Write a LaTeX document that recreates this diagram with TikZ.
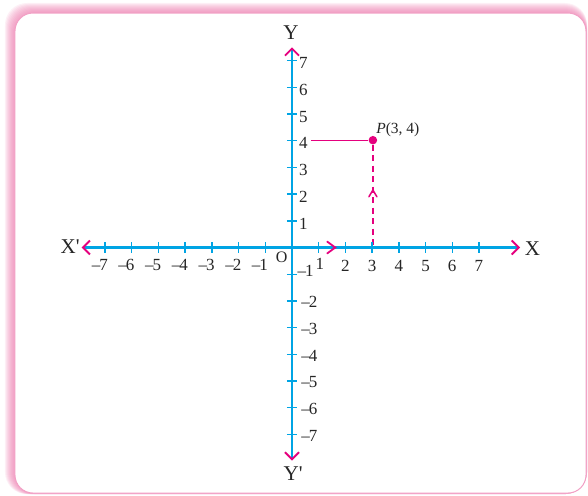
\documentclass[tikz,border=0pt]{standalone}
\usepackage{fontspec}
\setmainfont{Liberation Serif}
\usetikzlibrary{arrows.meta,calc}
\definecolor{axcyan}{RGB}{0,164,228}
\definecolor{mag}{RGB}{229,0,126}
\definecolor{framepink}{RGB}{236,120,172}
\newcommand{\mns}{\textendash\kern-1pt}
\begin{document}
\begin{tikzpicture}[x=26.7pt,y=26.7pt,
  axisline/.style={axcyan, line width=2.4pt,
    arrows={Straight Barb[color=mag,length=7pt,width=14pt,line width=1.9pt]-Straight Barb[color=mag,length=7pt,width=14pt,line width=1.9pt]}},
  tickmark/.style={axcyan, line width=1.4pt},
  ticklbl/.style={font=\fontsize{17}{20}\selectfont, inner sep=0pt, text=black!85},
  axlbl/.style={font=\fontsize{21}{24}\selectfont, inner sep=0pt, text=black!85},
  chevron/.style={mag, line width=1.8pt, line cap=round, line join=miter},
  guide/.style={mag, line width=1.3pt}]
\useasboundingbox (-10.936,-9.270) rectangle (11.086,9.270);
% frame with soft pink shadow
\foreach \i in {1,...,10}{
  \fill[framepink, opacity=0.11, rounded corners=22pt]
    ({-10.375-\i*0.0375},{8.783+\i*0.0375}) rectangle (11.05,-9.235);
}
\fill[white, rounded corners=18pt] (-10.375,8.783) rectangle (11.011,-9.195);
\draw[framepink!70, line width=1.0pt, rounded corners=18pt] (-10.375,8.783) rectangle (11.011,-9.195);

% key coordinates
\coordinate (O) at (0,0);
\coordinate (xl) at (-7.88,0);
\coordinate (xr) at (8.54,0);
\coordinate (yb) at (0,-7.98);
\coordinate (yt) at (0,7.5);
\coordinate (hstart) at (0.71,4.02);
\node[circle, fill=mag, inner sep=0pt, minimum size=8.5pt] (P) at (3.03,4.02) {};
\coordinate (Pfoot) at (3.03,0);

% guide lines
\draw[guide] (hstart) -- (P);
\draw[guide, dash pattern=on 6pt off 4.5pt] (P) -- (Pfoot);

% axes
\draw[axisline] (xl) -- (xr);
\draw[axisline] (yb) -- (yt);

% ticks
\foreach \i in {-7,...,-1,1,2,...,7}{
  \draw[tickmark] (\i,-0.19) -- (\i,0.19);
  \draw[tickmark] (-0.19,\i) -- (0.19,\i);
}

% x tick labels
\node[ticklbl] (xpos1) at (1.04,-0.6) {1};
\foreach \i in {2,...,7}{
  \node[ticklbl] (xpos\i) at (\i,-0.7) {\i};
}
\foreach \i in {1,...,7}{
  \node[ticklbl] (xneg\i) at (-\i-0.2,-0.66) {\mns\i};
}
% y tick labels
\foreach \i in {1,...,7}{
  \node[ticklbl, anchor=west] (ypos\i) at (0.26,\i-0.1) {\i};
}
\node[ticklbl, anchor=west] (yneg1) at (0.2,-0.86) {\mns1};
\foreach \i in {2,...,7}{
  \node[ticklbl, anchor=west] (yneg\i) at (0.34,-\i-0.05) {\mns\i};
}

% axis labels
\node[axlbl] (Xlbl) at (9.01,-0.03) {X};
\node[axlbl] (Xplbl) at (-8.31,0.02) {X\textquotesingle};
\node[axlbl] (Ylbl) at (-0.04,8.03) {Y};
\node[axlbl] (Yplbl) at (0.04,-8.45) {Y\textquotesingle};
\node[font=\fontsize{16}{18}\selectfont, inner sep=0pt, text=black!85] (Olbl) at (-0.39,-0.35) {O};

% point label
\node[font=\fontsize{15.5}{17}\selectfont, inner sep=0pt, anchor=west, text=black!85] (Plbl) at (3.15,4.42) {\textit{P}(3, 4)};

% small direction chevrons
\coordinate (xmid) at (1.62,0);
\draw[chevron] ($(xmid)+(-0.3,0.22)$) -- (xmid) -- ($(xmid)+(-0.3,-0.22)$);
\coordinate (ymid) at (3.03,2.15);
\draw[chevron, line width=1.5pt] ($(ymid)+(-0.15,-0.25)$) -- (ymid) -- ($(ymid)+(0.15,-0.25)$);
\end{tikzpicture}
\end{document}
